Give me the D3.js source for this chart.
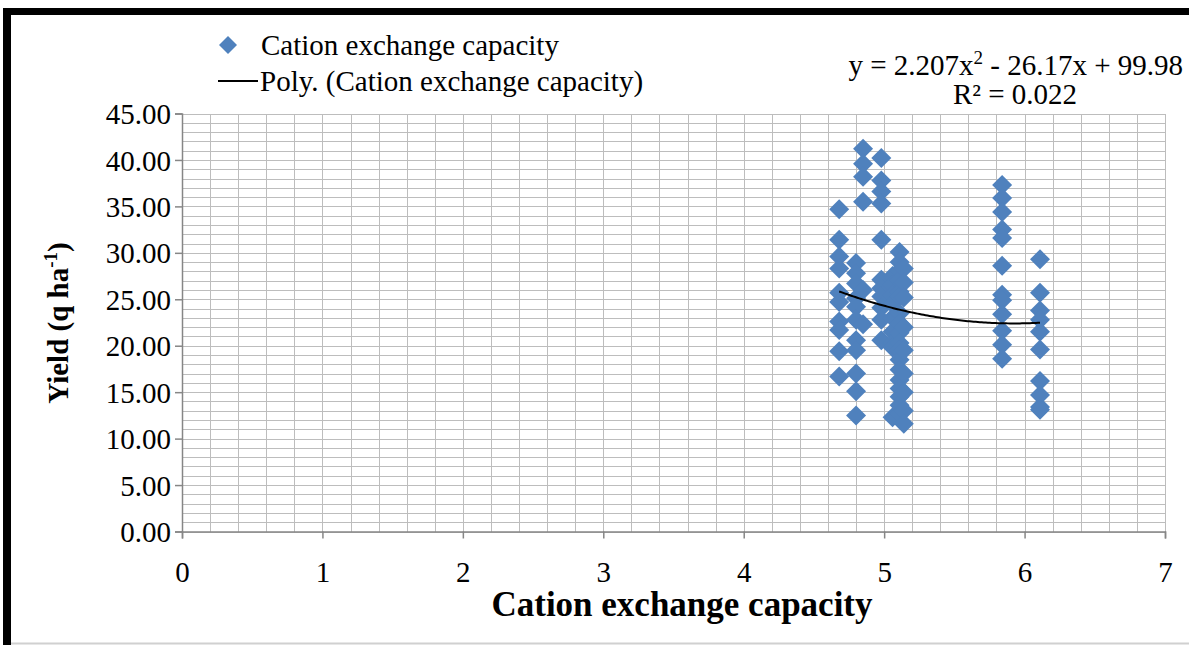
<!DOCTYPE html>
<html><head><meta charset="utf-8">
<script src="https://cdn.jsdelivr.net/npm/d3@7"></script>
<style>body{margin:0;background:#fff;}svg{display:block;}</style>
</head><body>
<svg id="chart" width="1189" height="645"></svg>
<script>
// ---- data ----
const xTicks = [0,1,2,3,4,5,6,7];
const yTicks = [0,5,10,15,20,25,30,35,40,45];
const colX = [4.68, 4.80, 4.85, 4.98, 5.06, 5.11, 5.14, 5.84, 6.11];
const colA = [34.7, 31.4, 29.6, 28.3, 25.7, 24.7, 22.6, 21.7, 19.4, 16.7];
const colB = [28.9, 27.8, 26.7, 25.1, 24.2, 22.8, 20.6, 19.5, 17.0, 15.1, 12.5];
const colC = [41.2, 39.6, 38.2, 35.5, 26.0, 22.3];
const colD = [40.2, 37.8, 36.6, 35.3, 31.4, 27.1, 26.2, 25.3, 24.1, 22.8, 20.6];
const colE = [27.5, 26.5, 25.5, 24.5, 23.0, 21.5, 20.3, 19.8, 12.3];
const colF = [30.1, 29.0, 28.1, 27.1, 25.8, 25.3, 23.5, 22.4, 21.4, 20.3, 19.5, 18.5, 17.4, 16.3, 15.4, 14.5, 13.6, 12.7];
const colG = [28.3, 26.8, 25.2, 22.0, 19.5, 17.0, 15.0, 13.0, 11.6];
const colH = [37.3, 35.9, 34.4, 32.5, 31.6, 28.6, 25.5, 24.9, 23.4, 21.6, 20.1, 18.6];
const colI = [29.3, 25.7, 23.8, 22.8, 21.5, 19.6, 16.2, 14.7, 13.4, 13.1];
const yCols = [colA, colB, colC, colD, colE, colF, colG, colH, colI];
const polyCoef = [2.207, -26.17, 99.98]; // y = a x^2 + b x + c
const seriesName = "Cation exchange capacity";
const equationText = ["y = 2.207x", "2", " - 26.17x + 99.98"];
const r2Text = "R\u00B2 = 0.022";

const points = [];
yCols.forEach((arr,i)=>arr.forEach(v=>points.push({x:colX[i], y:v})));

const svg = d3.select("#chart");
const L=182, R=1165, T=113.5, B=531.5;
const x = d3.scaleLinear().domain([0,7]).range([L,R]);
const y = d3.scaleLinear().domain([0,45]).range([B,T]);
const FONT = "'Liberation Serif','Times New Roman',serif";

// outer frame
svg.append("rect").attr("x",0).attr("y",0).attr("width",1189).attr("height",645).attr("fill","#fff");
svg.append("line").attr("x1",3).attr("x2",1189).attr("y1",11.5).attr("y2",11.5).attr("stroke","#000").attr("stroke-width",7);
svg.append("line").attr("x1",7).attr("x2",7).attr("y1",8).attr("y2",645).attr("stroke","#000").attr("stroke-width",8);
svg.append("line").attr("x1",11).attr("x2",1189).attr("y1",643.5).attr("y2",643.5).attr("stroke","#d0d0d0").attr("stroke-width",2);

// grid
const g = svg.append("g").attr("shape-rendering","crispEdges");
g.selectAll(".hg").data(d3.range(0,46,1)).join("line")
  .attr("x1",L).attr("x2",R).attr("y1",d=>Math.round(y(d))+0.5).attr("y2",d=>Math.round(y(d))+0.5)
  .attr("stroke","#bdbdbd").attr("stroke-width",1);
g.selectAll(".vg").data(d3.range(0,36,1).map(i=>i*0.2)).join("line")
  .attr("y1",T).attr("y2",B).attr("x1",d=>Math.round(x(d))+0.5).attr("x2",d=>Math.round(x(d))+0.5)
  .attr("stroke","#bdbdbd").attr("stroke-width",1);

// axes
const yAxis = d3.axisLeft(y).tickValues(yTicks).tickFormat(d3.format(".2f")).tickSize(7).tickPadding(4);
const xAxis = d3.axisBottom(x).tickValues(xTicks).tickFormat(d3.format("d")).tickSize(7).tickPadding(23);
const ya = svg.append("g").attr("transform",`translate(${L},0)`).call(yAxis);
const xa = svg.append("g").attr("transform",`translate(0,${B})`).call(xAxis);
[ya,xa].forEach(a=>{
  a.select(".domain").attr("stroke","#868686").attr("stroke-width",1.5);
  a.selectAll(".tick line").attr("stroke","#868686").attr("stroke-width",1.5);
  a.selectAll("text").attr("font-family",FONT).attr("font-size",29).attr("fill","#000");
});
ya.selectAll("text").attr("dy","0.35em");

// points
const diamond = "M0,-10L10,0L0,10L-10,0Z";
svg.append("g").selectAll("path").data(points).join("path")
  .attr("d",diamond).attr("transform",d=>`translate(${x(d.x)},${y(d.y)})`)
  .attr("fill","#4F81BD");

// trendline
const xmin = d3.min(colX), xmax = d3.max(colX);
const tx = d3.range(0,101).map(i=>xmin+(xmax-xmin)*i/100);
const line = d3.line().x(d=>x(d)).y(d=>y(polyCoef[0]*d*d+polyCoef[1]*d+polyCoef[2]));
svg.append("path").datum(tx).attr("d",line).attr("fill","none").attr("stroke","#000").attr("stroke-width",2);

// axis titles
svg.append("text").attr("x",682).attr("y",616).attr("text-anchor","middle")
  .attr("font-family",FONT).attr("font-weight","bold").attr("font-size",35).text(seriesName);
const yt = svg.append("text").attr("transform","translate(68,323) rotate(-90)").attr("text-anchor","middle")
  .attr("font-family",FONT).attr("font-weight","bold").attr("font-size",29);
yt.append("tspan").text("Yield (q ha");
yt.append("tspan").attr("font-size",19).attr("dy",-11).text("-1");
yt.append("tspan").attr("dy",11).text(")");

// legend
svg.append("path").attr("d","M0,-9L9,0L0,9L-9,0Z").attr("transform","translate(228,45)").attr("fill","#4F81BD");
svg.append("text").attr("x",261).attr("y",55).attr("font-family",FONT).attr("font-size",29).text(seriesName);
svg.append("line").attr("x1",218).attr("x2",258).attr("y1",81).attr("y2",81).attr("stroke","#000").attr("stroke-width",2);
svg.append("text").attr("x",260).attr("y",91).attr("font-family",FONT).attr("font-size",29).text("Poly. (" + seriesName + ")");

// equation
const eq = svg.append("text").attr("x",1183).attr("y",75).attr("text-anchor","end").attr("font-family",FONT).attr("font-size",29);
eq.append("tspan").text(equationText[0]);
eq.append("tspan").attr("font-size",19).attr("dy",-11).text(equationText[1]);
eq.append("tspan").attr("dy",11).text(equationText[2]);
svg.append("text").attr("x",1015).attr("y",104).attr("text-anchor","middle").attr("font-family",FONT).attr("font-size",29).text(r2Text);
</script>
</body></html>
